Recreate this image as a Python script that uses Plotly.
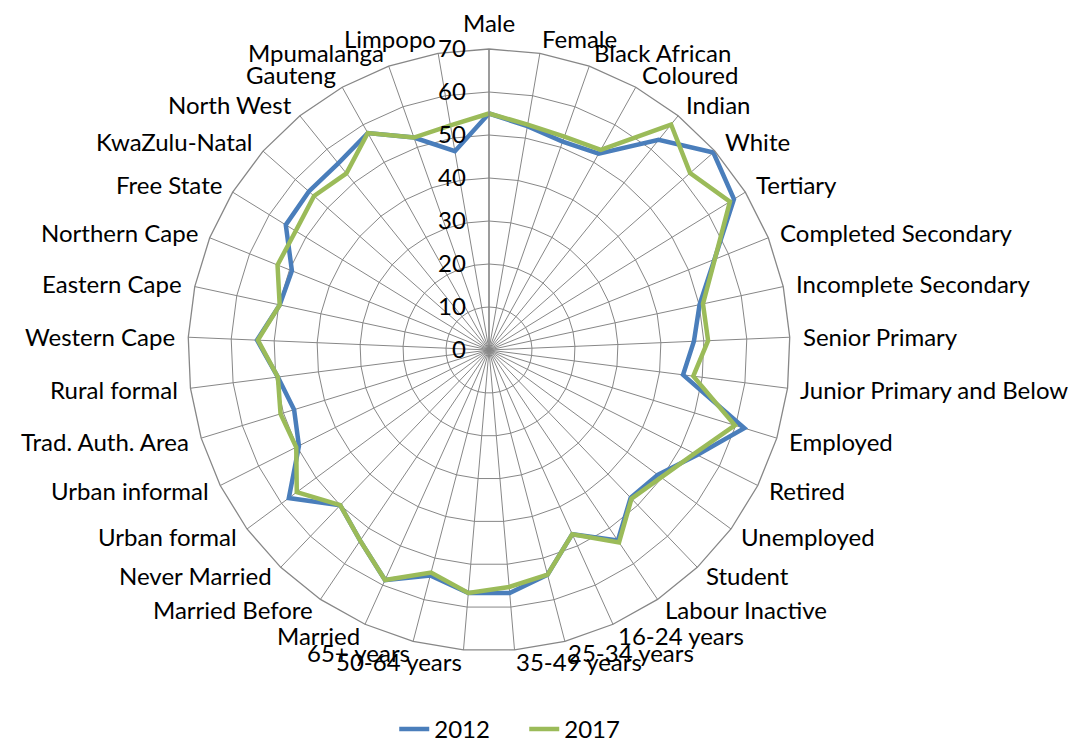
import math
import plotly.graph_objects as go

categories = [
    "Male", "Female", "Black African", "Coloured", "Indian", "White",
    "Tertiary", "Completed Secondary", "Incomplete Secondary", "Senior Primary",
    "Junior Primary and Below", "Employed", "Retired", "Unemployed", "Student",
    "Labour Inactive", "16-24 years", "25-34 years", "35-49 years", "50-64 years",
    "65+ years", "Married", "Married Before", "Never Married", "Urban formal",
    "Urban informal", "Trad. Auth. Area", "Rural formal", "Western Cape",
    "Eastern Cape", "Northern Cape", "Free State", "KwaZulu-Natal", "North West",
    "Gauteng", "Mpumalanga", "Limpopo",
]

values_2012 = [
    55.0, 52.8, 51.4, 52.3, 62.8, 69.5,
    66.9, 56.5, 50.1, 47.7,
    45.5, 62.1, 54.2, 48.8, 47.6,
    53.5, 47.0, 54.0, 56.7, 56.7,
    54.2, 58.7, 53.5, 50.0, 57.9,
    49.5, 47.4, 49.5, 54.0,
    49.8, 49.4, 55.5, 55.8, 55.8,
    57.8, 52.4, 46.9,
]

values_2017 = [
    55.0, 53.2, 52.6, 53.3, 67.4, 62.3,
    65.8, 56.6, 50.9, 51.0,
    47.9, 59.8, 53.5, 49.8, 47.9,
    54.0, 47.0, 54.0, 55.3, 56.7,
    53.5, 58.7, 53.5, 50.0, 55.6,
    50.2, 50.7, 49.5, 53.8,
    49.8, 53.0, 52.8, 54.2, 52.8,
    57.8, 52.4, 53.0,
]

series_names = ["2012", "2017"]
series_colors = ["#4A7EBB", "#9BBB59"]
radial_ticks = [0, 10, 20, 30, 40, 50, 60, 70]

FONT = "Lato"
GRID = "#878787"
FS = 24

# figure geometry (px); the page adds an 8 px body margin
W, H = 1088, 744
CX, CY, R = 481.0, 342.0, 301.0

fig = go.Figure()
for name, vals, col in zip(series_names, [values_2012, values_2017], series_colors):
    fig.add_trace(go.Scatterpolar(
        r=vals + [vals[0]],
        theta=categories + [categories[0]],
        mode="lines",
        name=name,
        line=dict(color=col, width=4.5),
        hoverinfo="skip",
    ))

# category labels placed Excel-style just outside the outer ring
n = len(categories)
for i, cat in enumerate(categories):
    th = math.radians(i * 360.0 / n)
    s, c = math.sin(th), math.cos(th)
    ex, ey = CX + R * s, CY - R * c
    if abs(s) < 0.01:
        xa = "center"
        dy = 26 * c
    else:
        xa = "left" if s > 0 else "right"
        dy = 15 * c if c > 0 else 12 * c
    lx = ex + 13 * s - (2 if s > 0.01 else -2 if s < -0.01 else 0)
    ly = ey - dy
    fig.add_annotation(
        x=lx / W, y=1 - ly / H, xref="paper", yref="paper",
        text=cat, showarrow=False, xanchor=xa, yanchor="middle",
        font=dict(family=FONT, size=FS, color="black"),
    )

fig.update_layout(
    width=W,
    height=H,
    margin=dict(l=0, r=0, t=0, b=0),
    paper_bgcolor="white",
    plot_bgcolor="white",
    font=dict(family=FONT, size=FS, color="black"),
    polar=dict(
        domain=dict(x=[(CX - R) / W, (CX + R) / W], y=[1 - (CY + R) / H, 1 - (CY - R) / H]),
        gridshape="linear",
        bgcolor="white",
        angularaxis=dict(
            rotation=90,
            direction="clockwise",
            gridcolor=GRID,
            gridwidth=1.3,
            linecolor=GRID,
            linewidth=1.3,
            showline=True,
            ticks="",
            showticklabels=False,
        ),
        radialaxis=dict(
            range=[0, 70],
            tickvals=radial_ticks,
            ticktext=[str(v) for v in radial_ticks],
            angle=90,
            tickangle=90,
            side="counterclockwise",
            gridcolor=GRID,
            gridwidth=1.3,
            linecolor=GRID,
            linewidth=1.3,
            showline=True,
            ticks="outside",
            ticklen=14,
            tickcolor="rgba(0,0,0,0)",
            tickfont=dict(family=FONT, size=FS, color="black"),
        ),
    ),
    legend=dict(
        orientation="h",
        x=0.355,
        xanchor="left",
        y=0.0,
        yanchor="bottom",
        entrywidth=85,
        font=dict(family=FONT, size=FS, color="black"),
    ),
)

fig.write_html("out.html")
